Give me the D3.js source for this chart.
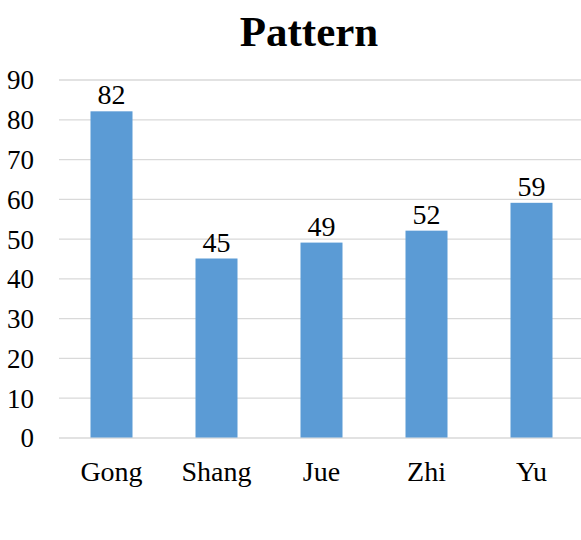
<!DOCTYPE html>
<html><head><meta charset="utf-8">
<script src="https://cdn.jsdelivr.net/npm/d3@7"></script>
<style>body{margin:0;background:#fff}</style>
</head><body>
<script>
const categories = ["Gong","Shang","Jue","Zhi","Yu"];
const values = [82,45,49,52,59];
const yTicks = [0,10,20,30,40,50,60,70,80,90];
const title = "Pattern";

const W = 581, H = 540;
const svg = d3.select("body").append("svg").attr("width", W).attr("height", H);
const font = "'Liberation Serif','Times New Roman',serif";

const x = d3.scaleBand().domain(categories).range([59, 584]).paddingInner(0.6).paddingOuter(0.3);
const y = d3.scaleLinear().domain([0, 90]).range([437.5, 79.5]);

svg.append("text").attr("x", 309).attr("y", 46).attr("text-anchor", "middle")
  .attr("font-family", font).attr("font-weight", "bold").attr("font-size", 43).text(title);

const yAxis = svg.append("g").attr("transform", "translate(59,0)")
  .call(d3.axisLeft(y).tickValues(yTicks).tickSize(-(584-59)).tickPadding(22));
yAxis.select(".domain").remove();
yAxis.selectAll(".tick line").attr("stroke", "#d9d9d9").attr("stroke-width", 1.3);
yAxis.selectAll(".tick text").attr("font-family", font).attr("font-size", 27).attr("fill", "#000")
  .attr("text-anchor", "end").attr("x", -25).attr("dy", "0.35em");

svg.selectAll("rect.bar").data(values).enter().append("rect")
  .attr("x", (d,i) => x(categories[i])).attr("y", d => y(d))
  .attr("width", x.bandwidth()).attr("height", d => y(0) - y(d)).attr("fill", "#5b9bd5");

svg.selectAll("text.val").data(values).enter().append("text")
  .attr("x", (d,i) => x(categories[i]) + x.bandwidth()/2).attr("y", d => y(d) - 7)
  .attr("text-anchor", "middle").attr("font-family", font).attr("font-size", 28).text(d => d);

const xAxis = svg.append("g").attr("transform", `translate(0,${y(0)})`)
  .call(d3.axisBottom(x).tickSize(0).tickPadding(24));
xAxis.select(".domain").remove();
xAxis.selectAll(".tick text").attr("font-family", font).attr("font-size", 28).attr("fill", "#000");
</script>
</body></html>
